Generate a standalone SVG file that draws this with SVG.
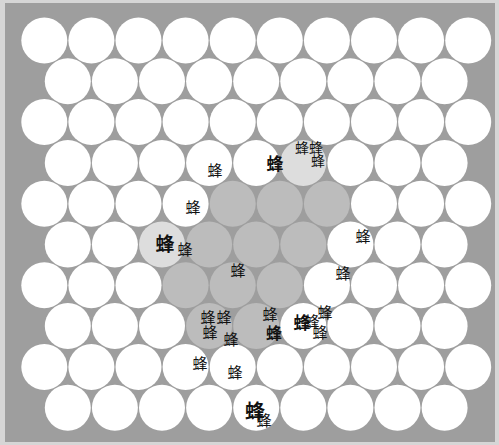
<svg xmlns="http://www.w3.org/2000/svg" width="499" height="445" viewBox="0 0 499 445">
<style>
circle{stroke:none}
.w circle{fill:#ffffff}
.w circle.g{fill:#bcbcbc}
.w circle.l{fill:#dddddd}
text{font-family:"Noto Sans CJK SC","Noto Sans CJK JP",sans-serif;fill:#111;text-anchor:middle;font-size:15px}
.b{font-weight:bold}
</style>
<rect x="0" y="0" width="499" height="445" fill="#d6d6d6"/>
<rect x="5" y="3" width="490" height="439" fill="#9e9e9e"/>
<g class="w" id="r1" transform="translate(0,40.5)">
<circle cx="44.3" cy="0" r="23"/><circle cx="91.4" cy="0" r="23"/><circle cx="138.5" cy="0" r="23"/><circle cx="185.6" cy="0" r="23"/><circle cx="232.7" cy="0" r="23"/><circle cx="279.8" cy="0" r="23"/><circle cx="326.9" cy="0" r="23"/><circle cx="374" cy="0" r="23"/><circle cx="421.1" cy="0" r="23"/><circle cx="468.2" cy="0" r="23"/>
</g>
<g class="w" id="r2" transform="translate(0,81.3)">
<circle cx="67.8" cy="0" r="23"/><circle cx="114.9" cy="0" r="23"/><circle cx="162" cy="0" r="23"/><circle cx="209.1" cy="0" r="23"/><circle cx="256.2" cy="0" r="23"/><circle cx="303.3" cy="0" r="23"/><circle cx="350.4" cy="0" r="23"/><circle cx="397.5" cy="0" r="23"/><circle cx="444.6" cy="0" r="23"/>
</g>
<g class="w" id="r3" transform="translate(0,122.1)">
<circle cx="44.3" cy="0" r="23"/><circle cx="91.4" cy="0" r="23"/><circle cx="138.5" cy="0" r="23"/><circle cx="185.6" cy="0" r="23"/><circle cx="232.7" cy="0" r="23"/><circle cx="279.8" cy="0" r="23"/><circle cx="326.9" cy="0" r="23"/><circle cx="374" cy="0" r="23"/><circle cx="421.1" cy="0" r="23"/><circle cx="468.2" cy="0" r="23"/>
</g>
<g class="w" id="r4" transform="translate(0,162.9)">
<circle cx="67.8" cy="0" r="23"/><circle cx="114.9" cy="0" r="23"/><circle cx="162" cy="0" r="23"/><circle cx="209.1" cy="0" r="23"/><circle cx="256.2" cy="0" r="23"/><circle cx="303.3" cy="0" r="23" class="l"/><circle cx="350.4" cy="0" r="23"/><circle cx="397.5" cy="0" r="23"/><circle cx="444.6" cy="0" r="23"/>
</g>
<g class="w" id="r5" transform="translate(0,203.7)">
<circle cx="44.3" cy="0" r="23"/><circle cx="91.4" cy="0" r="23"/><circle cx="138.5" cy="0" r="23"/><circle cx="185.6" cy="0" r="23"/><circle cx="232.7" cy="0" r="23" class="g"/><circle cx="279.8" cy="0" r="23" class="g"/><circle cx="326.9" cy="0" r="23" class="g"/><circle cx="374" cy="0" r="23"/><circle cx="421.1" cy="0" r="23"/><circle cx="468.2" cy="0" r="23"/>
</g>
<g class="w" id="r6" transform="translate(0,244.5)">
<circle cx="67.8" cy="0" r="23"/><circle cx="114.9" cy="0" r="23"/><circle cx="162" cy="0" r="23" class="l"/><circle cx="209.1" cy="0" r="23" class="g"/><circle cx="256.2" cy="0" r="23" class="g"/><circle cx="303.3" cy="0" r="23" class="g"/><circle cx="350.4" cy="0" r="23"/><circle cx="397.5" cy="0" r="23"/><circle cx="444.6" cy="0" r="23"/>
</g>
<g class="w" id="r7" transform="translate(0,285.3)">
<circle cx="44.3" cy="0" r="23"/><circle cx="91.4" cy="0" r="23"/><circle cx="138.5" cy="0" r="23"/><circle cx="185.6" cy="0" r="23" class="g"/><circle cx="232.7" cy="0" r="23" class="g"/><circle cx="279.8" cy="0" r="23" class="g"/><circle cx="326.9" cy="0" r="23"/><circle cx="374" cy="0" r="23"/><circle cx="421.1" cy="0" r="23"/><circle cx="468.2" cy="0" r="23"/>
</g>
<g class="w" id="r8" transform="translate(0,326.1)">
<circle cx="67.8" cy="0" r="23"/><circle cx="114.9" cy="0" r="23"/><circle cx="162" cy="0" r="23"/><circle cx="209.1" cy="0" r="23" class="g"/><circle cx="256.2" cy="0" r="23" class="g"/><circle cx="303.3" cy="0" r="23"/><circle cx="350.4" cy="0" r="23"/><circle cx="397.5" cy="0" r="23"/><circle cx="444.6" cy="0" r="23"/>
</g>
<g class="w" id="r9" transform="translate(0,366.9)">
<circle cx="44.3" cy="0" r="23"/><circle cx="91.4" cy="0" r="23"/><circle cx="138.5" cy="0" r="23"/><circle cx="185.6" cy="0" r="23"/><circle cx="232.7" cy="0" r="23"/><circle cx="279.8" cy="0" r="23"/><circle cx="326.9" cy="0" r="23"/><circle cx="374" cy="0" r="23"/><circle cx="421.1" cy="0" r="23"/><circle cx="468.2" cy="0" r="23"/>
</g>
<g class="w" id="r10" transform="translate(0,407.7)">
<circle cx="67.8" cy="0" r="23"/><circle cx="114.9" cy="0" r="23"/><circle cx="162" cy="0" r="23"/><circle cx="209.1" cy="0" r="23"/><circle cx="256.2" cy="0" r="23"/><circle cx="303.3" cy="0" r="23"/><circle cx="350.4" cy="0" r="23"/><circle cx="397.5" cy="0" r="23"/><circle cx="444.6" cy="0" r="23"/>
</g>
<g id="bees">
<text x="215" y="176">蜂</text>
<text x="275" y="170" class="b" style="font-size:17px">蜂</text>
<text x="302" y="153" style="font-size:14px">蜂</text>
<text x="316" y="153" style="font-size:14px">蜂</text>
<text x="318" y="166" style="font-size:14px">蜂</text>
<text x="193" y="213">蜂</text>
<text x="165" y="251" class="b" style="font-size:19px">蜂</text>
<text x="185" y="255">蜂</text>
<text x="363" y="242">蜂</text>
<text x="238" y="276">蜂</text>
<text x="343" y="279">蜂</text>
<text x="208" y="323">蜂</text>
<text x="224" y="323">蜂</text>
<text x="210" y="338">蜂</text>
<text x="231" y="345">蜂</text>
<text x="270" y="320">蜂</text>
<text x="274" y="339" class="b" style="font-size:16px">蜂</text>
<text x="302" y="329" class="b" style="font-size:17px">蜂</text>
<text x="312" y="327">蜂</text>
<text x="325" y="318">蜂</text>
<text x="320" y="338">蜂</text>
<text x="200" y="369">蜂</text>
<text x="235" y="378">蜂</text>
<text x="255" y="419" class="b" style="font-size:20px">蜂</text>
<text x="264" y="426">蜂</text>
</g>
</svg>
